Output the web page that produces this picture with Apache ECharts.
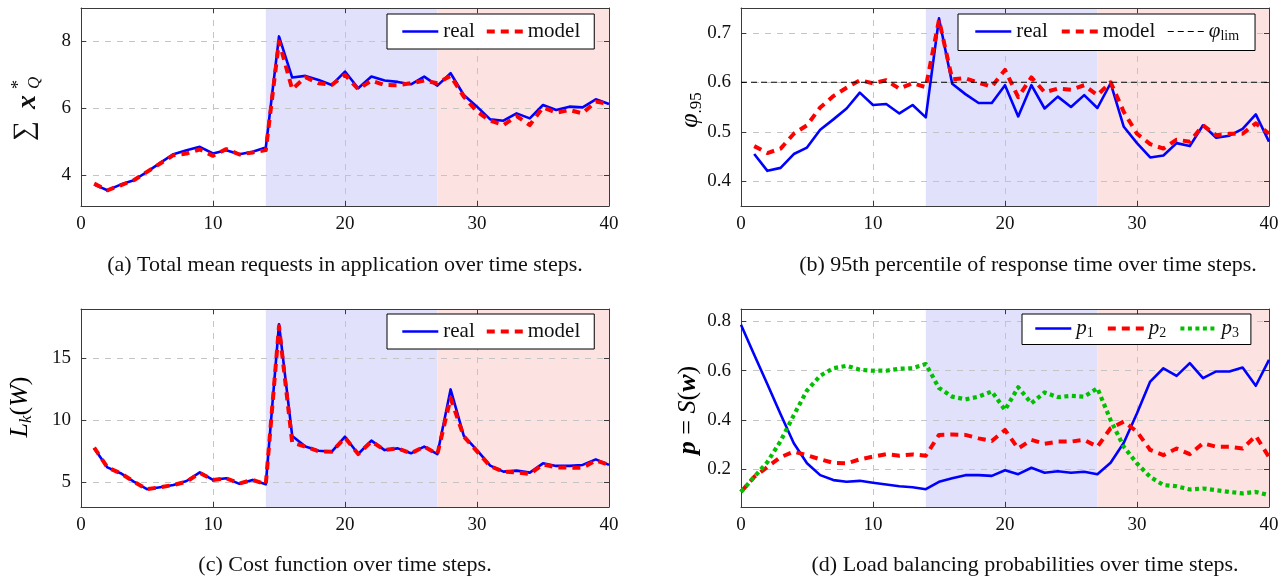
<!DOCTYPE html>
<html><head><meta charset="utf-8">
<script src="https://cdn.jsdelivr.net/npm/echarts@6/dist/echarts.min.js"></script>
<style>html,body{margin:0;padding:0;background:#fff}#c{width:1286px;height:576px}</style>
</head><body><div id="c"></div>
<script>
// ---------------- data ----------------
const stepsT = [1,2,3,4,5,6,7,8,9,10,11,12,13,14,15,16,17,18,19,20,21,22,23,24,25,26,27,28,29,30,31,32,33,34,35,36,37,38,39,40];
const stepsP = [0,1,2,3,4,5,6,7,8,9,10,11,12,13,14,15,16,17,18,19,20,21,22,23,24,25,26,27,28,29,30,31,32,33,34,35,36,37,38,39,40];

const realQ  = [3.72,3.55,3.72,3.85,4.10,4.37,4.63,4.75,4.85,4.65,4.75,4.63,4.70,4.83,8.15,6.92,6.97,6.85,6.70,7.10,6.60,6.95,6.83,6.79,6.72,6.95,6.68,7.05,6.40,6.05,5.67,5.63,5.85,5.70,6.10,5.95,6.05,6.03,6.27,6.13];
const modelQ = [3.75,3.55,3.70,3.85,4.10,4.35,4.60,4.65,4.77,4.58,4.78,4.62,4.68,4.75,8.00,6.57,6.93,6.75,6.70,7.00,6.57,6.83,6.70,6.69,6.75,6.83,6.75,6.97,6.35,5.90,5.63,5.50,5.77,5.50,6.03,5.87,5.95,5.85,6.20,6.13];

const realPhi  = [0.455,0.421,0.427,0.455,0.468,0.504,0.525,0.547,0.579,0.554,0.556,0.537,0.554,0.529,0.729,0.597,0.576,0.558,0.558,0.594,0.531,0.594,0.547,0.571,0.550,0.574,0.548,0.598,0.510,0.477,0.448,0.452,0.477,0.471,0.513,0.488,0.492,0.506,0.535,0.480];
const modelPhi = [0.471,0.457,0.466,0.496,0.513,0.549,0.572,0.589,0.604,0.598,0.604,0.587,0.598,0.590,0.726,0.606,0.608,0.599,0.591,0.625,0.570,0.610,0.580,0.587,0.585,0.594,0.574,0.600,0.540,0.496,0.475,0.466,0.484,0.480,0.513,0.493,0.496,0.496,0.517,0.496];
const phiLim = 0.6;

const realCost  = [7.74,6.20,5.73,5.05,4.44,4.60,4.78,5.10,5.80,5.19,5.32,4.87,5.19,4.84,17.77,8.74,7.88,7.55,7.47,8.68,7.28,8.36,7.60,7.74,7.34,7.88,7.28,12.50,8.74,7.60,6.34,5.86,5.94,5.78,6.53,6.32,6.32,6.40,6.85,6.40];
const modelCost = [7.80,6.20,5.73,5.05,4.44,4.60,4.78,5.05,5.75,5.19,5.32,4.90,5.19,4.84,17.60,8.20,7.88,7.50,7.47,8.60,7.28,8.30,7.60,7.74,7.34,7.88,7.28,11.80,8.70,7.50,6.30,5.86,5.80,5.67,6.45,6.20,6.18,6.18,6.75,6.40];

const p1 = [0.786,0.665,0.545,0.424,0.306,0.225,0.177,0.157,0.150,0.154,0.146,0.139,0.132,0.128,0.120,0.150,0.164,0.177,0.177,0.174,0.197,0.181,0.207,0.187,0.193,0.187,0.191,0.181,0.227,0.308,0.428,0.556,0.610,0.579,0.631,0.570,0.597,0.597,0.613,0.539,0.644];
const p2 = [0.109,0.170,0.210,0.250,0.272,0.258,0.241,0.227,0.225,0.241,0.252,0.262,0.256,0.261,0.256,0.340,0.342,0.340,0.326,0.315,0.360,0.285,0.320,0.304,0.313,0.313,0.320,0.292,0.367,0.394,0.353,0.279,0.258,0.285,0.262,0.306,0.292,0.292,0.285,0.336,0.250];
const p3 = [0.109,0.170,0.230,0.315,0.420,0.520,0.580,0.610,0.620,0.604,0.600,0.600,0.608,0.610,0.627,0.530,0.495,0.484,0.495,0.516,0.441,0.533,0.468,0.512,0.493,0.498,0.495,0.529,0.400,0.292,0.224,0.170,0.137,0.132,0.119,0.123,0.116,0.109,0.103,0.109,0.096];

const xTicks  = [0,10,20,30,40];
const yTicksA = [4,6,8];
const yTicksB = [0.4,0.5,0.6,0.7];
const yTicksC = [5,10,15];
const yTicksD = [0.2,0.4,0.6,0.8];
const phaseAdapt = [14,27];
const phaseLate  = [27,40];

const captions = [
  '(a) Total mean requests in application over time steps.',
  '(b) 95th percentile of response time over time steps.',
  '(c) Cost function over time steps.',
  '(d) Load balancing probabilities over time steps.'
];

// ---------------- styling ----------------
const FONT = 'Liberation Serif';
const FRAME = '#3a3a3a';
const GRIDC = '#c4c4c4';
const BLUE = '#0000ff', RED = '#ff0000', GREEN = '#00c000';
const BG1 = '#e1e1fb', BG2 = '#fde2e2';
const PW = 528, PH = 198;
const grids = [
  {left: 81,  top: 8,   width: PW, height: PH},
  {left: 741, top: 8,   width: PW, height: PH},
  {left: 81,  top: 309, width: PW, height: PH},
  {left: 741, top: 309, width: PW, height: PH}
];
const yRanges = [
  {min: 3.08, max: 9.0,  ticks: yTicksA, dec: 0},
  {min: 0.35, max: 0.75, ticks: yTicksB, dec: 1},
  {min: 3.0,  max: 19.0, ticks: yTicksC, dec: 0},
  {min: 0.048,max: 0.85, ticks: yTicksD, dec: 1}
];

function zip(xs, ys) { return ys.map((y, i) => [xs[i], y]); }
function isTick(v, ticks) { return ticks.some(t => Math.abs(t - v) < 1e-6); }

const xAxes = [], yAxes = [];
grids.forEach((g, i) => {
  const iv = xTicks[1] - xTicks[0];
  const common = {gridIndex: i, type: 'value', min: xTicks[0], max: xTicks[xTicks.length-1], interval: iv, z: 2,
    axisLine: {show: true, onZero: false, lineStyle: {color: FRAME, width: 1}},
    axisTick: {show: true, inside: true, length: 5, lineStyle: {color: FRAME}}};
  xAxes.push(Object.assign({}, common, {position: 'bottom',
    axisLabel: {show: true, fontFamily: FONT, fontSize: 19, color: '#111', margin: 9},
    splitLine: {show: true, lineStyle: {color: GRIDC, type: [6, 6], width: 1}}}));
  xAxes.push(Object.assign({}, common, {position: 'top', axisLabel: {show: false}, splitLine: {show: false}}));
  const r = yRanges[i];
  const yiv = r.ticks[1] - r.ticks[0];
  const ycommon = {gridIndex: i, type: 'value', min: r.min, max: r.max, minInterval: yiv, maxInterval: yiv, splitNumber: r.ticks.length, z: 2,
    axisLine: {show: true, onZero: false, lineStyle: {color: FRAME, width: 1}},
    axisTick: {show: true, inside: true, length: 5, lineStyle: {color: FRAME}}};
  yAxes.push(Object.assign({}, ycommon, {position: 'left',
    axisLabel: {show: true, fontFamily: FONT, fontSize: 19, color: '#111', margin: 10, showMinLabel: false, showMaxLabel: false,
      formatter: v => isTick(v, r.ticks) ? v.toFixed(r.dec) : ''},
    splitLine: {show: true, showMinLine: false, showMaxLine: false, lineStyle: {color: GRIDC, type: [6, 6], width: 1}}}));
  yAxes.push(Object.assign({}, ycommon, {position: 'right', axisLabel: {show: false}, splitLine: {show: false}}));
});

function shading() {
  return {silent: true, z: 1, data: [
    [{xAxis: phaseAdapt[0], itemStyle: {color: BG1}}, {xAxis: phaseAdapt[1]}],
    [{xAxis: phaseLate[0], itemStyle: {color: BG2}}, {xAxis: phaseLate[1]}]
  ]};
}
function lineS(name, g, data, color, width, type, withShade) {
  const s = {type: 'line', name, xAxisIndex: 2*g, yAxisIndex: 2*g, data, symbol: 'none', showSymbol: false,
    z: 3, animation: false, silent: true,
    lineStyle: {color, width, type, cap: 'butt', join: 'round'}, itemStyle: {color}};
  if (withShade) s.markArea = shading();
  return s;
}
const DASH = [8, 6], DOT = [4, 3.5];
const series = [
  lineS('real', 0, zip(stepsT, realQ), BLUE, 2.6, 'solid', true),
  lineS('model', 0, zip(stepsT, modelQ), RED, 4, DASH, false),
  lineS('real', 1, zip(stepsT, realPhi), BLUE, 2.6, 'solid', true),
  lineS('model', 1, zip(stepsT, modelPhi), RED, 4, DASH, false),
  lineS('phiLim', 1, [[xTicks[0], phiLim], [xTicks[xTicks.length-1], phiLim]], '#000', 1, [6, 4], false),
  lineS('real', 2, zip(stepsT, realCost), BLUE, 2.6, 'solid', true),
  lineS('model', 2, zip(stepsT, modelCost), RED, 4, DASH, false),
  lineS('p1', 3, zip(stepsP, p1), BLUE, 2.6, 'solid', true),
  lineS('p2', 3, zip(stepsP, p2), RED, 4, DASH, false),
  lineS('p3', 3, zip(stepsP, p3), GREEN, 4.2, DOT, false)
];

const legRich = {
  i: {fontFamily: FONT, fontStyle: 'italic', fontSize: 21, lineHeight: 24, color: '#111'},
  s: {fontFamily: FONT, fontSize: 14, lineHeight: 14, verticalAlign: 'bottom', color: '#111'}
};
function legFmt(n) {
  if (n === 'phiLim') return '{i|φ}{s|lim}';
  if (n[0] === 'p') return '{i|p}{s|' + n.slice(1) + '}';
  return n;
}
function legend(left, top, names, pad, gap) {
  return {left, top, data: names, orient: 'horizontal', padding: pad, itemGap: gap, itemWidth: 36, itemHeight: 14,
    borderColor: '#000', borderWidth: 1, borderRadius: 0, backgroundColor: '#fff', selectedMode: false,
    itemStyle: {opacity: 0}, lineStyle: {width: 'inherit', type: 'inherit', color: 'inherit'},
    textStyle: {fontFamily: FONT, fontSize: 21, color: '#111', rich: legRich}, formatter: legFmt};
}

const R = {fontFamily: FONT, fontSize: 26, lineHeight: 30, color: '#111'};
const yLabels = [
  {type: 'group', x: 27, y: 107, rotation: Math.PI/2, children: [
    {type: 'text', x: -34, y: -2, style: {text: '∑', font: '28px ' + FONT, fill: '#111', textAlign: 'left', textVerticalAlign: 'middle'}},
    {type: 'text', x: -2, y: 1, style: {text: 'x', font: 'italic bold 28px ' + FONT, fill: '#111', textAlign: 'left', textVerticalAlign: 'middle'}},
    {type: 'text', x: 18, y: -8, style: {text: '*', font: '18px ' + FONT, fill: '#111', textAlign: 'left', textVerticalAlign: 'middle'}},
    {type: 'text', x: 18, y: 8, style: {text: 'Q', font: 'italic 17px ' + FONT, fill: '#111', textAlign: 'left', textVerticalAlign: 'middle'}}
  ]},
  {type: 'text', x: 690, y: 110, rotation: Math.PI/2, style: {text: '{m|φ}{s|.95}', textAlign: 'center', textVerticalAlign: 'middle',
    rich: {m: Object.assign({}, R, {fontStyle: 'italic'}), s: {fontFamily: FONT, fontSize: 17, lineHeight: 17, verticalAlign: 'bottom', color: '#111'}}}},
  {type: 'text', x: 20, y: 407, rotation: Math.PI/2, style: {text: '{m|L}{s|k}{r|(}{m|W}{r|)}', textAlign: 'center', textVerticalAlign: 'middle',
    rich: {m: Object.assign({}, R, {fontStyle: 'italic'}), r: R, s: {fontFamily: FONT, fontStyle: 'italic', fontSize: 17, lineHeight: 17, verticalAlign: 'bottom', color: '#111'}}}},
  {type: 'text', x: 688, y: 410, rotation: Math.PI/2, style: {text: '{b|p}{r| = }{m|S}{r|(}{b|w}{r|)}', textAlign: 'center', textVerticalAlign: 'middle',
    rich: {b: Object.assign({}, R, {fontStyle: 'italic', fontWeight: 'bold'}), m: Object.assign({}, R, {fontStyle: 'italic'}), r: R}}}
];
const capPos = [[345, 265], [1028, 265], [345, 565], [1025, 565]];
const capEls = captions.map((t, i) => ({type: 'text', x: capPos[i][0], y: capPos[i][1],
  style: {text: t, font: '22px ' + FONT, fill: '#111', textAlign: 'center', textVerticalAlign: 'middle'}}));

const chart = echarts.init(document.getElementById('c'), null, {renderer: 'canvas'});
chart.setOption({
  animation: false,
  textStyle: {fontFamily: FONT},
  grid: grids.map(g => Object.assign({show: false}, g)),
  xAxis: xAxes,
  yAxis: yAxes,
  legend: [
    legend(387, 14, ['real', 'model'], [7, 14, 7, 14], 10),
    legend(958, 14, ['real', 'model', 'phiLim'], [7, 16, 7, 16], 12),
    legend(387, 314, ['real', 'model'], [7, 14, 7, 14], 10),
    legend(1022, 314, ['p1', 'p2', 'p3'], [4, 12, 4, 12], 12)
  ],
  series,
  graphic: yLabels.concat(capEls)
});
</script></body></html>
